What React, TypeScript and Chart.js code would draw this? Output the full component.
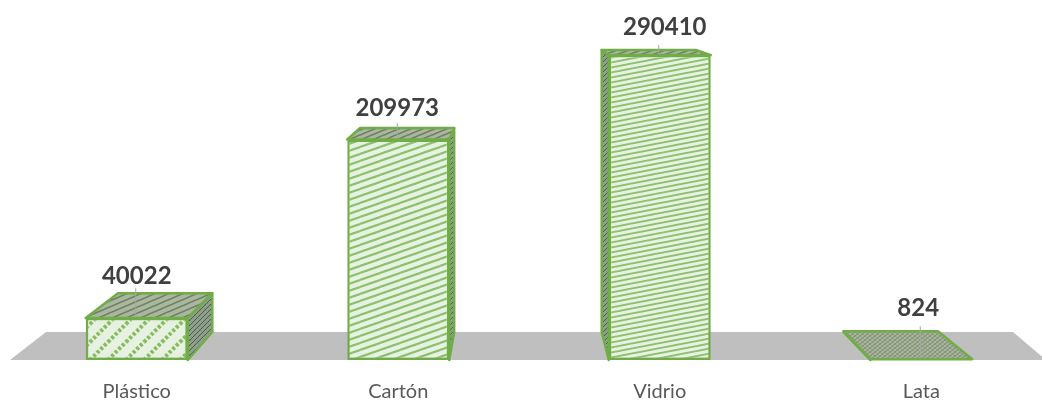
import React, { useEffect, useRef } from "react";
import { Chart, registerables } from "chart.js";

Chart.register(...registerables);

const categories = ["Plástico", "Cartón", "Vidrio", "Lata"];
const seriesName = "Envases";
const values = [40022, 209973, 290410, 824];

const FONT = "Lato, 'Open Sans', sans-serif";
const GREEN = "#70ad47";
const DEPTH = 0.075;
const VANISH_X = 515;
const VANISH_Y = -13;
const LABEL_DX = [0, -1, 5, -3];
const LABEL_DY = [-17, -20, -23, -23];

function hatch(w: number, h: number, bg: string, fg: string, lw: number, dash: number[] = [], cross?: string) {
  const c = document.createElement("canvas");
  c.width = w;
  c.height = h;
  const g = c.getContext("2d")!;
  g.fillStyle = bg;
  g.fillRect(0, 0, w, h);
  g.lineWidth = lw;
  const draw = (x0: number, y0: number, x1: number, y1: number) => {
    for (let i = -2; i <= 2; i++) {
      for (let j = -2; j <= 2; j++) {
        g.beginPath();
        g.moveTo(x0 + i * w, y0 + j * h);
        g.lineTo(x1 + i * w, y1 + j * h);
        g.stroke();
      }
    }
  };
  if (cross) {
    g.strokeStyle = cross;
    draw(0, 0, w, h);
  }
  g.strokeStyle = fg;
  g.setLineDash(dash);
  draw(0, h, w, 0);
  return g.createPattern(c, "repeat")!;
}

const back = (x: number, y: number): [number, number] => [
  x + DEPTH * (VANISH_X - x),
  y + DEPTH * (VANISH_Y - y),
];

function poly(ctx: CanvasRenderingContext2D, pts: [number, number][], fill: any) {
  ctx.beginPath();
  pts.forEach((p, i) => (i ? ctx.lineTo(p[0], p[1]) : ctx.moveTo(p[0], p[1])));
  ctx.closePath();
  ctx.fillStyle = fill;
  ctx.fill();
  ctx.strokeStyle = GREEN;
  ctx.lineWidth = 2.5;
  ctx.lineJoin = "round";
  ctx.stroke();
}

const cube3d = {
  id: "cube3d",
  beforeDatasetsDraw(chart: any) {
    const { ctx, chartArea: a } = chart;
    const meta = chart.getDatasetMeta(0);
    ctx.save();
    ctx.fillStyle = "#bfbfbf";
    ctx.beginPath();
    ctx.moveTo(10, a.bottom);
    ctx.lineTo(46, a.bottom - 28);
    ctx.lineTo(1013, a.bottom - 28);
    ctx.lineTo(1046, a.bottom);
    ctx.closePath();
    ctx.fill();

    const side = hatch(5, 5, "#8f9f90", "#4f5a50", 1, [], "#7f9f6f");
    const tops = [
      hatch(14, 6, "#a9b79c", "#6f7c6a", 1.6),
      hatch(12, 5, "#a9b79c", "#6f7c6a", 1.6),
      hatch(12, 4, "#a9b79c", "#6f7c6a", 1.4),
      hatch(5, 4, "#a8b59f", "#7c8a72", 1, [], "#8f9f80"),
    ];
    meta.data.forEach((bar: any, i: number) => {
      const p = bar.getProps(["x", "y", "base", "width"], true);
      const l = p.x - p.width / 2;
      const r = p.x + p.width / 2;
      const fl = [l, p.y] as [number, number];
      const fr = [r, p.y] as [number, number];
      const bl = back(l, p.y);
      const br = back(r, p.y);
      const rBase = back(r, p.base);
      const lBase = back(l, p.base);
      if (br[0] > r) poly(ctx, [fr, br, rBase, [r, p.base]], side);
      if (bl[0] < l) poly(ctx, [fl, bl, lBase, [l, p.base]], side);
      poly(ctx, [fl, bl, br, fr], tops[i]);
    });
    ctx.restore();
  },
  afterDatasetsDraw(chart: any) {
    const { ctx } = chart;
    const meta = chart.getDatasetMeta(0);
    ctx.save();
    meta.data.forEach((bar: any, i: number) => {
      const p = bar.getProps(["x", "y"], true);
      const top = back(p.x, p.y)[1];
      ctx.strokeStyle = "#a6a6a6";
      ctx.lineWidth = 1;
      ctx.beginPath();
      ctx.moveTo(p.x - 1, p.y - 1);
      ctx.lineTo(p.x - 1, top - 5);
      ctx.stroke();
      ctx.fillStyle = "#404040";
      ctx.font = `bold 24px ${FONT}`;
      ctx.textAlign = "center";
      ctx.textBaseline = "middle";
      ctx.fillText(String(values[i]), p.x + LABEL_DX[i], top + LABEL_DY[i]);
    });
    ctx.restore();
  },
};

export default function App() {
  const ref = useRef<HTMLCanvasElement>(null);
  useEffect(() => {
    const fronts = [
      hatch(18, 18, "#e6f1e2", "#86bc5c", 4, [3, 2]),
      hatch(20, 7, "#e6f2e4", "#8fc06a", 2.2),
      hatch(26, 5, "#e6f2e4", "#8fc06a", 1.8),
      hatch(5, 4, "#a8b59f", "#7c8a72", 1),
    ];
    const chart = new Chart(ref.current!, {
      type: "bar",
      data: {
        labels: categories,
        datasets: [
          {
            label: seriesName,
            data: values,
            backgroundColor: fronts,
            borderColor: GREEN,
            borderWidth: 2.5,
            borderSkipped: false,
            categoryPercentage: 1,
            barPercentage: 0.39,
          },
        ],
      },
      options: {
        responsive: false,
        animation: false,
        layout: { padding: { left: 6, right: 2, top: 45, bottom: 4 } },
        plugins: { legend: { display: false }, tooltip: { enabled: false } },
        scales: {
          x: {
            grid: { display: false },
            border: { display: false },
            ticks: { color: "#595959", font: { family: FONT, size: 20 }, padding: 12, maxRotation: 0 },
            afterFit: (s: any) => {
              s.height = 42;
            },
          },
          y: { display: false, min: 0, max: 300000 },
        },
      },
      plugins: [cube3d],
    });
    return () => chart.destroy();
  }, []);
  return (
    <div style={{ position: "absolute", left: 0, top: 0, width: 1042, height: 406, overflow: "hidden", background: "#fff" }}>
      <canvas ref={ref} width={1054} height={406} style={{ display: "block" }} />
    </div>
  );
}
